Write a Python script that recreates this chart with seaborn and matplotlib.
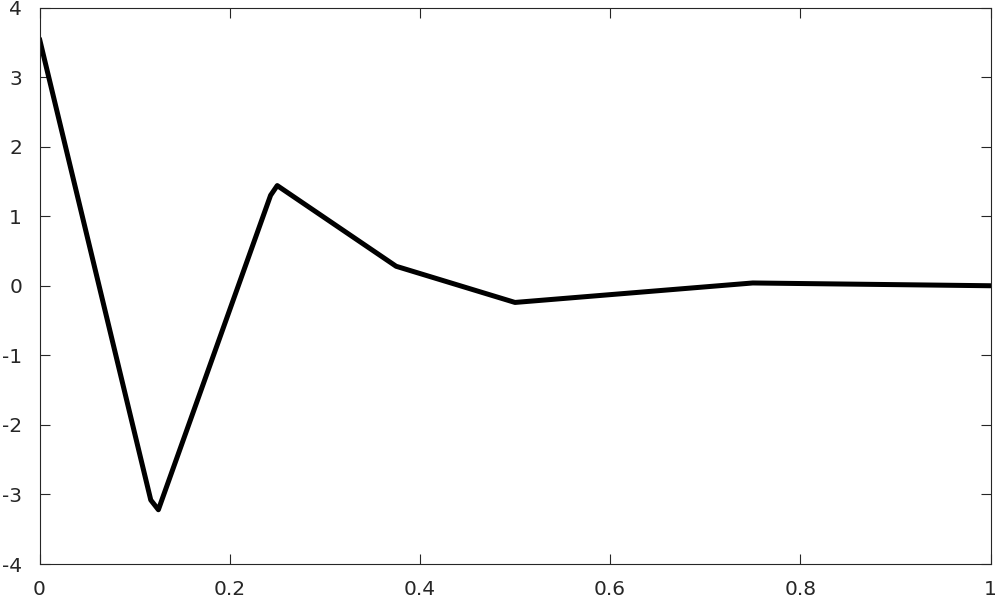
import matplotlib
matplotlib.use("Agg")
import matplotlib.pyplot as plt
import seaborn as sns
import pandas as pd

x_vals = [0.0, 0.117, 0.125, 0.243, 0.25, 0.375, 0.5, 0.75, 1.0]
y_vals = [3.55, -3.08, -3.22, 1.30, 1.44, 0.28, -0.24, 0.04, 0.0]
x_ticks = [0, 0.2, 0.4, 0.6, 0.8, 1]
x_ticklabels = ["0", "0.2", "0.4", "0.6", "0.8", "1"]
y_ticks = [-4, -3, -2, -1, 0, 1, 2, 3, 4]
y_ticklabels = ["-4", "-3", "-2", "-1", "0", "1", "2", "3", "4"]

sns.set_style("ticks")
plt.rcParams['font.family'] = ['DejaVu Sans']

df = pd.DataFrame({"x": x_vals, "y": y_vals})

fig = plt.figure(figsize=(9.97, 5.98), dpi=100)
ax = fig.add_axes([39.5 / 997, 1 - 564 / 598, 951 / 997, (564 - 7.5) / 598])
sns.lineplot(data=df, x="x", y="y", ax=ax, color="black", linewidth=3.6,
             sort=False, estimator=None)

ax.set_xlim(0, 1)
ax.set_ylim(-4, 4)
ax.set_xticks(x_ticks)
ax.set_xticklabels(x_ticklabels)
ax.set_yticks(y_ticks)
ax.set_yticklabels(y_ticklabels)
ax.set_xlabel("")
ax.set_ylabel("")
for s in ax.spines.values():
    s.set_visible(True)
    s.set_color("#262626")
    s.set_linewidth(0.8)
ax.tick_params(axis="both", direction="in", length=7, width=0.8, color="#262626",
               labelsize=14.5, labelcolor="#262626", top=True, right=True)
ax.tick_params(axis="x", pad=11.5)
ax.tick_params(axis="y", pad=12.5)

fig.savefig("out.png", dpi=100)
